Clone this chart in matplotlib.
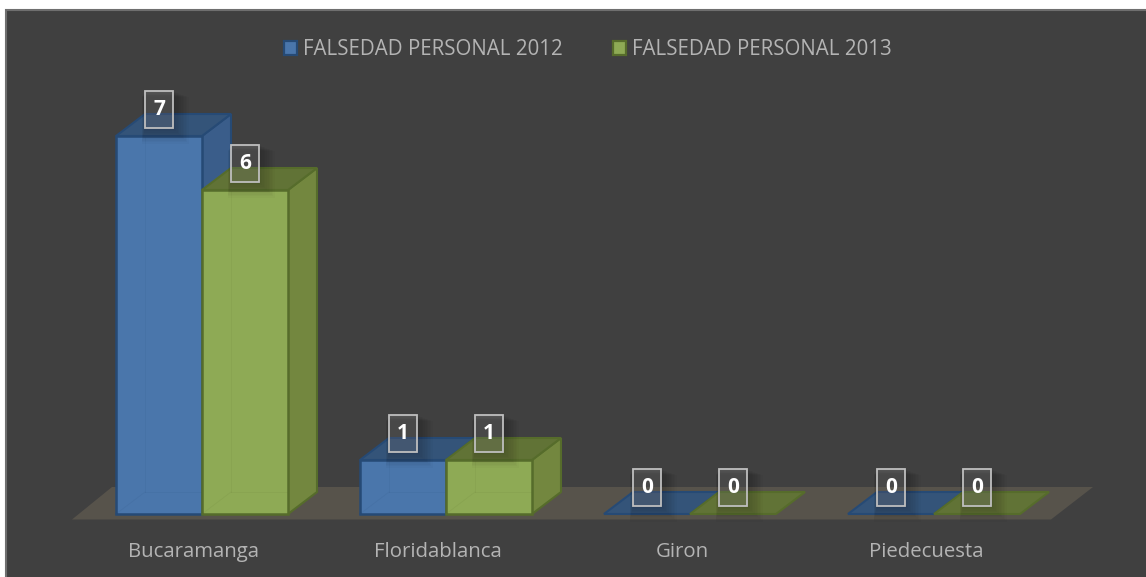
import matplotlib
matplotlib.use("Agg")
import matplotlib.pyplot as plt
from matplotlib.patches import Polygon, Rectangle

categories = ["Bucaramanga", "Floridablanca", "Giron", "Piedecuesta"]
series_names = ["FALSEDAD PERSONAL 2012", "FALSEDAD PERSONAL 2013"]
values_2012 = [7, 1, 0, 0]
values_2013 = [6, 1, 0, 0]

W, H = 1146, 577
PX = 244.0   # pixels per category
PY = 54.0    # pixels per unit
X0, Y0 = 202.0, 514.0
plt.rcParams['font.family'] = ['Open Sans', 'DejaVu Sans']

fig = plt.figure(figsize=(W/100, H/100), dpi=100, facecolor="white")
ax = fig.add_axes([0, 0, 1, 1])
ax.set_xlim(-X0/PX, (W-X0)/PX)
ax.set_ylim((Y0-H)/PY, Y0/PY)
ax.axis("off")

def px(x): return (x-X0)/PX
def py(y): return (Y0-y)/PY
dx, dy = 29/PX, 22/PY
bw = 86/PX

ax.add_patch(Rectangle((px(6), py(H+3)), (W+3-6)/PX, (H+3-10)/PY, fc="#404040", ec="#6f6f6f", lw=1.5, zorder=0))
ax.add_patch(Polygon([(px(72), py(519.5)), (px(112), py(487)), (px(1093), py(487)), (px(1051), py(519.5))],
                     fc="#57534b", ec="none", zorder=1))

def box(x, v, front, top, side, edge, z):
    if v > 0:
        ax.add_patch(Polygon([(x, 0), (x+dx, dy), (x+bw+dx, dy), (x+bw, 0)], fc=front, ec=edge, lw=1, zorder=z))
        ax.add_patch(Polygon([(x+bw, 0), (x+bw+dx, dy), (x+bw+dx, v+dy), (x+bw, v)], fc=side, ec=edge, lw=1.5, zorder=z+.1))
        ax.add_patch(Polygon([(x, v), (x+dx, v+dy), (x+bw+dx, v+dy), (x+bw, v)], fc=top, ec=edge, lw=1.5, zorder=z+.1))
        ax.add_patch(Rectangle((x, 0), bw, v, fc=front, ec=edge, lw=1.8, zorder=z+.2))
        ax.plot([x+dx, x+dx], [dy, v], color=edge, lw=.6, alpha=.1, zorder=z+.3)
        ax.plot([x+dx, x+bw], [dy, dy], color=edge, lw=.6, alpha=.1, zorder=z+.3)
        ax.plot([x, x+dx], [0, dy], color=edge, lw=.6, alpha=.1, zorder=z+.3)
    else:
        ax.add_patch(Polygon([(x, 0), (x+dx, dy), (x+bw+dx, dy), (x+bw, 0)], fc=top, ec=edge, lw=1.5, zorder=z+.1))

def label(x, v, z):
    cx = x + 43/PX
    cy = v + 26.5/PY
    hw, hh = 14/PX, 18.5/PY
    for k in range(10):
        g = (10-k)*1.6
        ax.add_patch(Rectangle((cx-hw-0.2*g/PX, cy-hh-g/PY), 2*hw+1.2*g/PX, 2*hh+(g-6+k*0.6)/PY,
                               fc="black", ec="none", alpha=.02, zorder=z))
    ax.add_patch(Rectangle((cx-hw, cy-hh), 2*hw, 2*hh, fc=(1, 1, 1, .12), ec="#bfbfbf", lw=1.3, zorder=z+.1))
    ax.text(cx, cy, str(v), color="white", fontsize=15, fontweight="bold", ha="center", va="center", zorder=z+.2)

colors = [("#4a76ab", "#345479", "#3a5d8a", "#264a75"), ("#8eaa55", "#617336", "#73873f", "#566c2b")]
for i in range(len(categories)):
    box(i - bw, values_2012[i], *colors[0], 2)
    box(i, values_2013[i], *colors[1], 3)
for i in range(len(categories)):
    label(i - bw, values_2012[i], 10)
    label(i, values_2013[i], 10)
    ax.text(i - 8/PX, py(557), categories[i], color="#b4b4b4", fontsize=14.7, ha="center", va="baseline", zorder=5)

# legend
for x0, name, c in zip([284, 613], series_names, colors):
    ax.add_patch(Rectangle((px(x0), py(55)), 13/PX, 14/PY, fc=c[0], ec=c[3], lw=1.6, zorder=5))
    ax.text(px(x0+19), py(55), name, color="#b4b4b4", fontsize=14.8, ha="left", va="baseline", zorder=5)

fig.savefig("out.png", dpi=100, facecolor=fig.get_facecolor())
